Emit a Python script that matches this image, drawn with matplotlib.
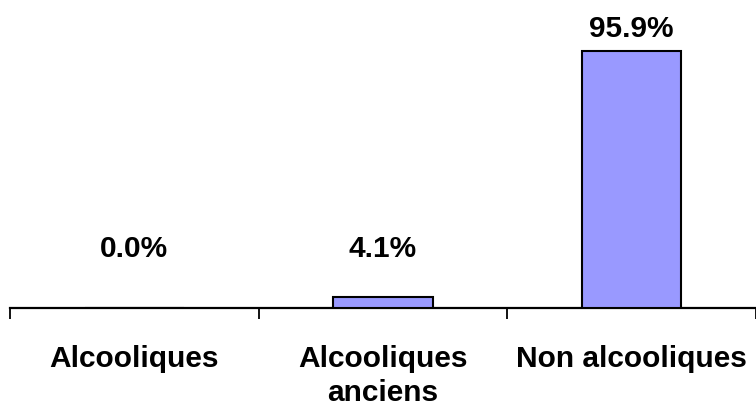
import matplotlib
matplotlib.use('Agg')
import matplotlib.pyplot as plt

categories = ['Alcooliques', 'Alcooliques\nanciens', 'Non alcooliques']
values = [0.0, 4.1, 95.9]
value_labels = ['0.0%', '4.1%', '95.9%']

plt.rcParams['font.family'] = ['Liberation Sans', 'DejaVu Sans']

fig = plt.figure(figsize=(7.56, 4.06), dpi=100, facecolor='white')
ax = fig.add_axes([10 / 756, 97 / 406, 746 / 756, 268 / 406])

x = list(range(len(categories)))
ax.bar(x, values, width=0.4, color='#9999FF', edgecolor='black', linewidth=1.5, zorder=3)

for xi, v, lab in zip(x, values, value_labels):
    ax.text(xi, max(v, 14) + 8.5, lab, ha='center', va='center',
            fontsize=21.5, fontweight='bold', color='black')

ax.set_xlim(-0.5, len(categories) - 0.5)
ax.set_ylim(0, 100)

ax.set_xticks([i - 0.5 for i in range(len(categories) + 1)])
ax.set_xticklabels([])
ax.tick_params(axis='x', which='major', direction='out', length=8, width=1.3, color='black')
ax.set_xticks(x, minor=True)
ax.set_xticklabels(categories, minor=True, fontsize=21.5, fontweight='bold', linespacing=1.25)
ax.tick_params(axis='x', which='minor', length=0, pad=26)
ax.set_yticks([])

for side in ('left', 'top', 'right'):
    ax.spines[side].set_visible(False)
ax.spines['bottom'].set_linewidth(1.6)
ax.set_facecolor('white')

fig.savefig('out.png', dpi=100, facecolor='white')
